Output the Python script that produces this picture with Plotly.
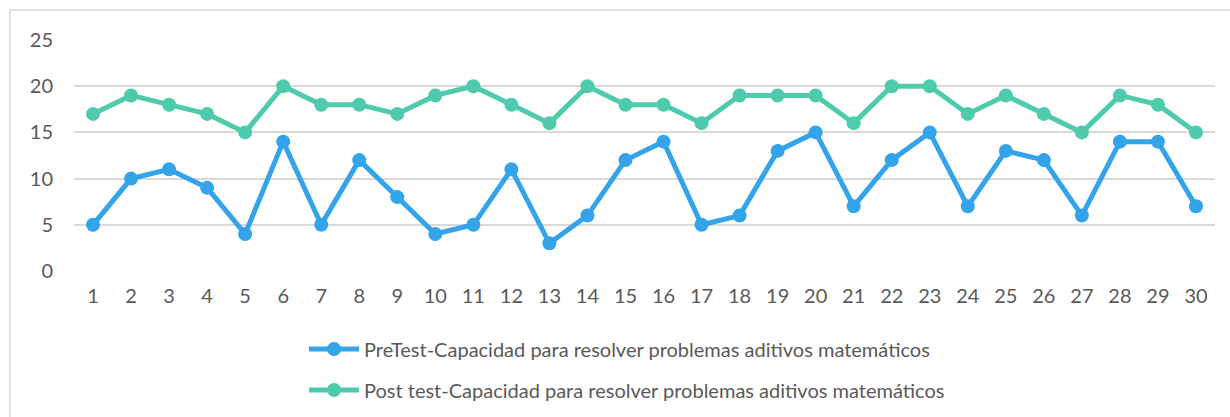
import plotly.graph_objects as go

categories = list(range(1, 31))
pretest = [5, 10, 11, 9, 4, 14, 5, 12, 8, 4, 5, 11, 3, 6, 12, 14, 5, 6, 13, 15, 7, 12, 15, 7, 13, 12, 6, 14, 14, 7]
posttest = [17, 19, 18, 17, 15, 20, 18, 18, 17, 19, 20, 18, 16, 20, 18, 18, 16, 19, 19, 19, 16, 20, 20, 17, 19, 17, 15, 19, 18, 15]
y_ticks = [0, 5, 10, 15, 20, 25]

font_family = "Lato, 'DejaVu Sans', sans-serif"
text_color = "#595959"

fig = go.Figure()
fig.add_trace(go.Scatter(
    x=categories, y=pretest, mode="lines+markers", legendgroup="a",
    name="PreTest-Capacidad para resolver problemas aditivos matemáticos",
    line=dict(color="#33a3ea", width=5), marker=dict(size=14, color="#33a3ea"),
))
fig.add_trace(go.Scatter(
    x=categories, y=posttest, mode="lines+markers", legendgroup="b",
    name="Post test-Capacidad para resolver problemas aditivos matemáticos",
    line=dict(color="#4ecbac", width=5), marker=dict(size=14, color="#4ecbac"),
))

fig.update_layout(
    width=1230, height=417,
    margin=dict(l=74, r=15, t=40, b=146),
    paper_bgcolor="white", plot_bgcolor="white",
    font=dict(family=font_family, color=text_color, size=20),
    showlegend=True,
    legend=dict(orientation="v", x=(627 - 74) / 1141, xanchor="center",
                yref="container", y=(417 - 329.5) / 417, yanchor="top",
                font=dict(size=20, color=text_color), traceorder="grouped",
                tracegroupgap=12, itemwidth=50, borderwidth=0),
    xaxis=dict(range=[0.5, 30.5], tickmode="array", tickvals=categories,
               ticktext=[str(c) for c in categories], showgrid=False, zeroline=False,
               showline=False, ticks="", ticklabelstandoff=11, fixedrange=True,
               automargin=False),
    yaxis=dict(range=[0, 25], tickmode="array", tickvals=y_ticks,
               showgrid=True, gridcolor="#d9d9d9", gridwidth=1.5, zeroline=False,
               showline=False, ticks="", ticklabelstandoff=20, fixedrange=True,
               automargin=False),
    shapes=[dict(type="rect", xref="paper", yref="paper",
                 x0=(10 - 74) / 1141, x1=1.2, y0=-1.0, y1=1 + 30 / 231,
                 line=dict(color="#d9d9d9", width=1.5), fillcolor="rgba(0,0,0,0)", layer="below")],
)

fig.write_html(
    "out.html",
    config={"displayModeBar": False},
    post_script="document.body.style.margin='0';document.body.style.overflow='hidden';",
)
